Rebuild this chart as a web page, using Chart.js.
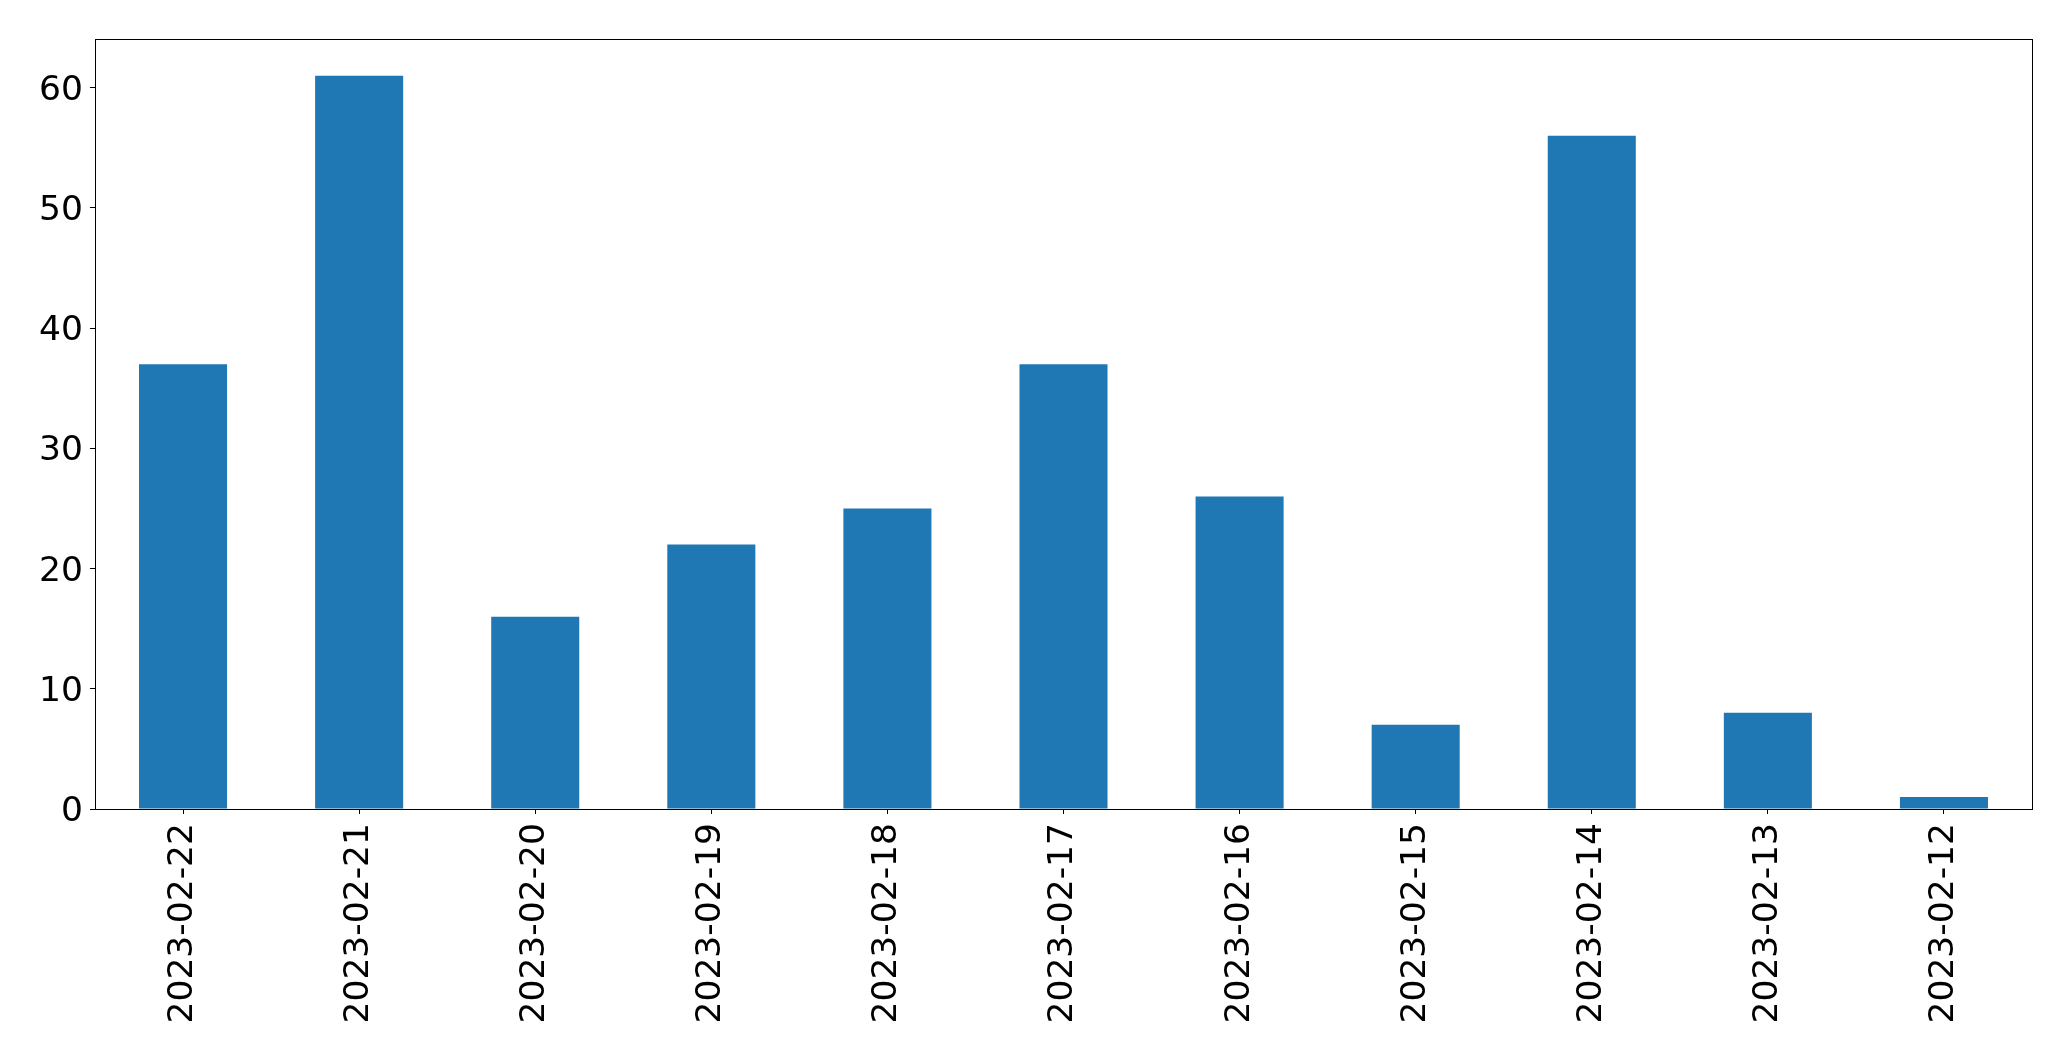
<!DOCTYPE html>
<html>
<head>
<meta charset="utf-8">
<script src="https://cdn.jsdelivr.net/npm/chart.js@4"></script>
<style>
html,body{margin:0;padding:0;background:#fff;}
#wrap{width:2071px;height:1061px;}
</style>
</head>
<body>
<div id="wrap"><canvas id="c" width="2071" height="1061"></canvas></div>
<script>
const categories = ["2023-02-22","2023-02-21","2023-02-20","2023-02-19","2023-02-18","2023-02-17","2023-02-16","2023-02-15","2023-02-14","2023-02-13","2023-02-12"];
const counts = [37, 61, 16, 22, 25, 37, 26, 7, 56, 8, 1];
const yTicks = [0, 10, 20, 30, 40, 50, 60];
const yMax = Math.max(...counts) * 1.05;

const frame = {
  id: 'frame',
  afterDraw(chart) {
    const a = chart.chartArea, ctx = chart.ctx;
    ctx.save();
    ctx.strokeStyle = '#000';
    ctx.lineWidth = 1;
    ctx.strokeRect(Math.round(a.left) + 0.5, Math.round(a.top) + 0.5, Math.round(a.right - a.left), Math.round(a.bottom - a.top));
    ctx.restore();
  }
};

new Chart(document.getElementById('c'), {
  type: 'bar',
  data: {
    labels: categories,
    datasets: [{
      data: counts,
      backgroundColor: '#1f77b4',
      borderWidth: 0,
      categoryPercentage: 1.0,
      barPercentage: 0.5
    }]
  },
  options: {
    responsive: false,
    animation: false,
    devicePixelRatio: 1,
    layout: { padding: { left: 0, right: 39, top: 39, bottom: 0 } },
    plugins: { legend: { display: false }, tooltip: { enabled: false } },
    scales: {
      x: {
        grid: { drawOnChartArea: false, offset: false, color: '#000', tickLength: 5, tickWidth: 1 },
        border: { color: '#000', width: 1 },
        ticks: {
          color: '#000', font: { family: 'DejaVu Sans', size: 34.5 },
          maxRotation: 90, minRotation: 90, padding: 9, autoSkip: false
        },
        afterFit(s) { s.height = 1061 - 809; }
      },
      y: {
        min: 0, max: yMax,
        grid: { drawOnChartArea: false, color: '#000', tickLength: 5, tickWidth: 1 },
        border: { color: '#000', width: 1 },
        afterBuildTicks(s) { s.ticks = yTicks.map(v => ({ value: v })); },
        ticks: {
          color: '#000', font: { family: 'DejaVu Sans', size: 34.5 },
          padding: 7, includeBounds: false, labelOffset: 3
        },
        afterFit(s) { s.width = 95; }
      }
    }
  },
  plugins: [frame]
});
</script>
</body>
</html>
